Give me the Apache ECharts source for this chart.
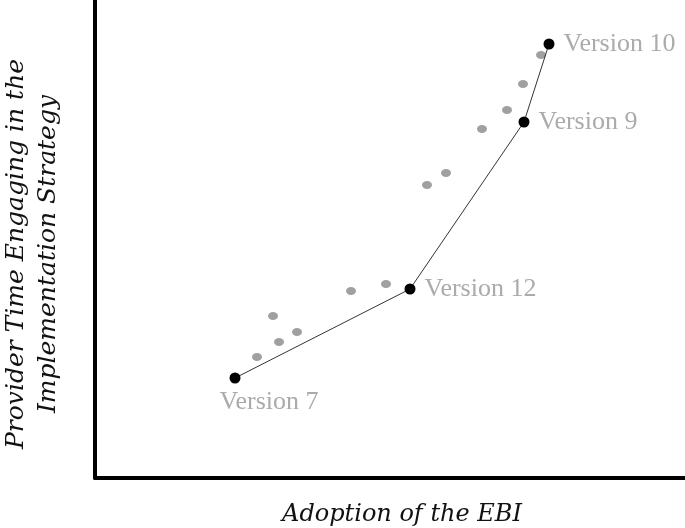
<!DOCTYPE html>
<html>
<head>
<meta charset="utf-8">
<script src="https://cdn.jsdelivr.net/npm/echarts@6/dist/echarts.min.js"></script>
<style>
  html, body { margin: 0; padding: 0; background: #fff; }
</style>
</head>
<body>
<div id="main" style="width: 685px; height: 528px;"></div>
<script type="text/javascript">
    // values: x = adoption, y = provider time (arbitrary units)
    var versionNames = ['Version 7', 'Version 12', 'Version 9', 'Version 10'];
    var versionX = [140, 315, 429, 454];
    var versionY = [100, 189, 356, 434];

    var otherX = [162, 184, 202, 178, 256, 291, 332, 351, 387, 412, 428, 446];
    var otherY = [121, 136, 146, 162, 187, 194, 293, 305, 349, 368, 394, 423];

    var versionData = versionX.map(function (x, i) {
        var lbl = {};
        if (i === 0) {
            lbl = {position: 'bottom', offset: [34, 0], distance: 6};
        }
        return {value: [x, versionY[i]], name: versionNames[i], label: lbl};
    });
    var otherData = otherX.map(function (x, i) {
        return [x, otherY[i]];
    });

    var myChart = echarts.init(document.getElementById('main'));
    var option = {
        animation: false,
        grid: {
            left: 95,
            right: 0,
            top: 0,
            bottom: 50,
            outerBoundsMode: 'none',
            containLabel: false
        },
        xAxis: {
            type: 'value',
            min: 0,
            max: 590,
            name: 'Adoption of the EBI',
            nameLocation: 'middle',
            nameGap: 25,
            nameTextStyle: {
                fontFamily: 'DejaVu Serif',
                fontStyle: 'italic',
                fontSize: 24,
                color: '#111',
                padding: [0, 0, 0, 24]
            },
            axisLine: {lineStyle: {color: '#000', width: 4}},
            axisTick: {show: false},
            axisLabel: {show: false},
            splitLine: {show: false}
        },
        yAxis: {
            type: 'value',
            min: 0,
            max: 478,
            name: 'Provider Time Engaging in the\nImplementation Strategy',
            nameLocation: 'middle',
            nameRotate: 90,
            nameGap: 31,
            nameTextStyle: {
                fontFamily: 'DejaVu Serif',
                fontStyle: 'italic',
                fontSize: 25,
                lineHeight: 32,
                color: '#111',
                align: 'center',
                padding: [0, 30, 0, 0]
            },
            axisLine: {lineStyle: {color: '#000', width: 4}},
            axisTick: {show: false},
            axisLabel: {show: false},
            splitLine: {show: false}
        },
        series: [
            {
                type: 'scatter',
                symbol: 'circle',
                symbolSize: [10, 8],
                itemStyle: {color: '#888'},
                data: otherData,
                z: 2
            },
            {
                type: 'line',
                symbol: 'circle',
                symbolSize: 11,
                itemStyle: {color: '#000'},
                lineStyle: {color: '#333', width: 1},
                label: {
                    show: true,
                    position: 'right',
                    distance: 9,
                    formatter: '{b}',
                    fontFamily: 'Liberation Serif',
                    fontSize: 26,
                    color: '#ababab'
                },
                data: versionData,
                z: 3
            }
        ]
    };
    myChart.setOption(option);
</script>
</body>
</html>
